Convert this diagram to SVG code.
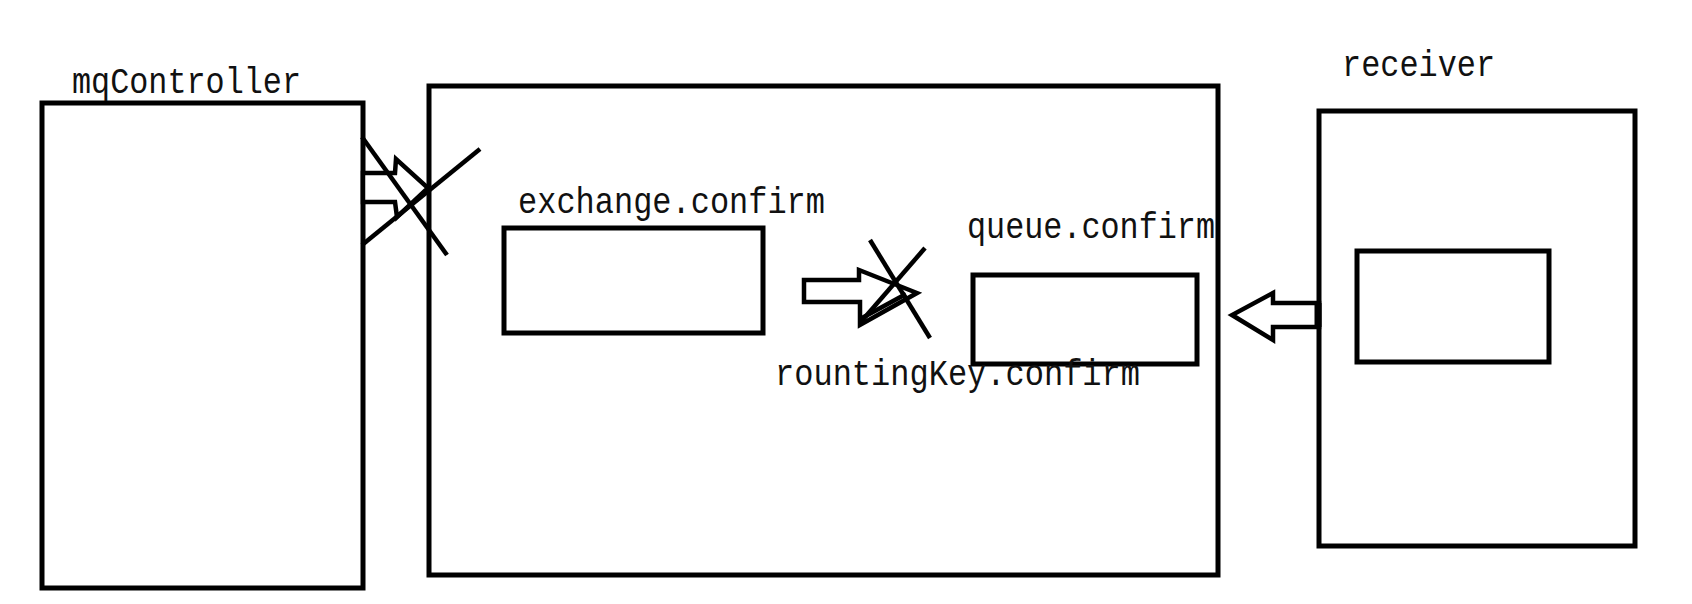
<svg xmlns="http://www.w3.org/2000/svg" width="1692" height="604" viewBox="0 0 1692 604">
<style>
.box{fill:none;stroke:#000;stroke-width:5}
.inner{fill:none;stroke:#000;stroke-width:5}
.lbl{font-family:"Liberation Mono","DejaVu Sans Mono",monospace;font-size:36px;fill:#111}
.arrow{fill:#fff;stroke:#000;stroke-width:4.5;stroke-linejoin:miter}
.cross{stroke:#000;stroke-width:4.5;fill:none;stroke-linecap:butt}
</style>
<rect width="1692" height="604" fill="#fff"/>
<g id="mqController">
<rect class="box" x="42" y="103" width="321" height="485"/>
<text class="lbl" x="72" y="93" textLength="229" lengthAdjust="spacingAndGlyphs">mqController</text>
</g>
<g id="broker">
<rect class="box" x="429" y="86" width="789" height="489"/>
</g>
<g id="exchange">
<rect class="inner" x="504" y="228" width="259" height="105"/>
<text class="lbl" x="518" y="213" textLength="307" lengthAdjust="spacingAndGlyphs">exchange.confirm</text>
</g>
<g id="queue">
<rect class="inner" x="973" y="275" width="224" height="89"/>
<text class="lbl" x="967" y="238" textLength="248" lengthAdjust="spacingAndGlyphs">queue.confirm</text>
</g>
<g id="routingKey">
<text class="lbl" x="775" y="385" textLength="365" lengthAdjust="spacingAndGlyphs">rountingKey.confirm</text>
</g>
<g id="receiver">
<rect class="box" x="1319" y="111" width="316" height="435"/>
<rect class="inner" x="1357" y="251" width="192" height="111"/>
<text class="lbl" x="1342" y="76" textLength="153" lengthAdjust="spacingAndGlyphs">receiver</text>
</g>
<g id="connectors">
<polygon class="arrow" points="363,173 395,173 396,159 428,188 397,217 395,202 363,202"/>
<line class="cross" x1="362" y1="137" x2="447" y2="255"/>
<line class="cross" x1="480" y1="149" x2="362" y2="245"/>
<polygon class="arrow" points="804,280 859,280 859,270 917,293 860,325 860,302 804,302"/>
<line class="cross" x1="862" y1="318" x2="906" y2="294"/>
<line class="cross" x1="870" y1="240" x2="930" y2="338"/>
<line class="cross" x1="925" y1="248" x2="860" y2="323"/>
<polygon class="arrow" points="1319,303 1273,303 1273,293 1232,315 1273,340 1273,327 1319,327"/>
<line x1="1318" y1="303" x2="1318" y2="327" stroke="#000" stroke-width="7"/>
</g>
</svg>
